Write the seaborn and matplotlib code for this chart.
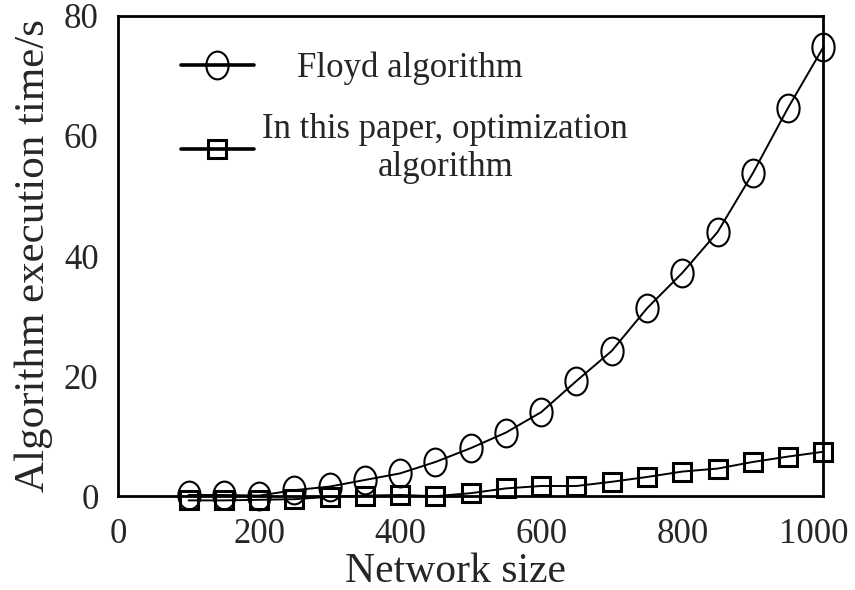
import pandas as pd
import seaborn as sns
import matplotlib.pyplot as plt
from matplotlib.path import Path
from matplotlib.transforms import Affine2D, ScaledTranslation

# network sizes and execution times (s)
sizes = [100, 150, 200, 250, 300, 350, 400, 450, 500, 550,
         600, 650, 700, 750, 800, 850, 900, 950, 1000]
floyd_time = [0.2, 0.2, 0.1, 1.0, 1.6, 2.7, 3.8, 5.7, 8.0, 10.6,
              14.0, 19.2, 24.2, 31.3, 37.2, 44.0, 53.8, 64.7, 74.8]
optimized_time = [-0.7, -0.7, -0.6, -0.5, -0.1, 0.1, 0.2, 0.0, 0.5, 1.3,
                  1.7, 1.7, 2.4, 3.2, 4.1, 4.6, 5.7, 6.6, 7.4]

data = pd.DataFrame({"size": sizes, "floyd": floyd_time, "opt": optimized_time})

sns.set_style("white")
plt.rcParams['font.family'] = ['Liberation Serif', 'DejaVu Serif']

# the circles in the original are a bit taller than wide
oval = Path.unit_circle().transformed(Affine2D().scale(0.8, 1.0))

fig, ax = plt.subplots(figsize=(8.55, 5.9), dpi=100)
fig.subplots_adjust(left=0.138, right=0.963, bottom=0.159, top=0.973)

sns.lineplot(data=data, x="size", y="floyd", ax=ax, color="black", linewidth=1.4,
             marker=oval, markersize=20, markerfacecolor="none",
             markeredgecolor="black", markeredgewidth=1.5, clip_on=False,
             label="    Floyd algorithm")
sns.lineplot(data=data, x="size", y="opt", ax=ax, color="black", linewidth=1.4,
             marker="s", markersize=13, markerfacecolor="none",
             markeredgecolor="black", markeredgewidth=2.2, clip_on=False,
             label="In this paper, optimization\nalgorithm")

ax.set_xlim(0, 1000)
ax.set_ylim(0, 80)
ax.set_xticks([0, 200, 400, 600, 800, 1000])
ax.set_yticks([0, 20, 40, 60, 80])
ax.tick_params(axis="both", length=0, labelsize=25)
ax.tick_params(axis="x", pad=16)
ax.tick_params(axis="y", pad=14)
ax.set_xlabel("Network size", fontsize=30, labelpad=1, x=0.478)
ax.set_ylabel("Algorithm execution time/s", fontsize=31, labelpad=8)

# "1000" sits a little left of its tick in the original
last = ax.get_xticklabels()[-1]
last.set_transform(last.get_transform() + ScaledTranslation(-0.1, 0, fig.dpi_scale_trans))

for s in ax.spines.values():
    s.set_visible(True)
    s.set_color("black")
    s.set_linewidth(2.0)

leg = ax.legend(loc="upper left", bbox_to_anchor=(0.089, 0.925), frameon=False,
                fontsize=25, handlelength=2.1, handletextpad=0.25,
                labelspacing=0.8, borderpad=0, borderaxespad=0)
for t in leg.get_texts():
    t.set_multialignment("center")
for h in leg.legend_handles:
    h.set_linewidth(2.6)

plt.savefig("out.png", dpi=100)
